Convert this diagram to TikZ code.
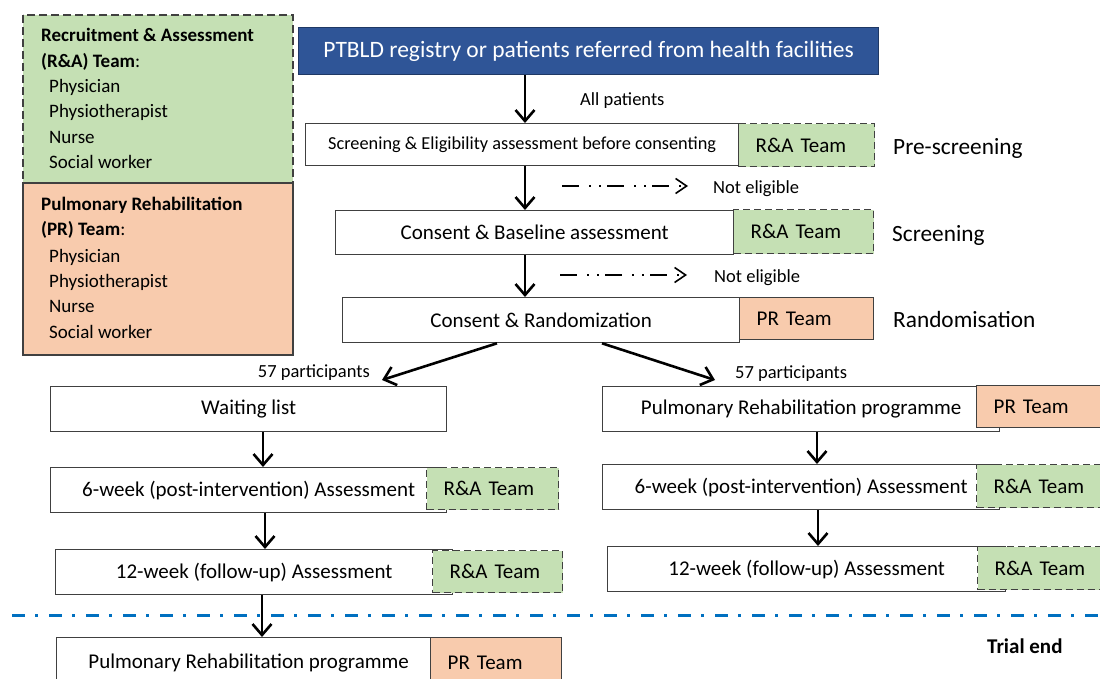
\documentclass[tikz,border=0pt]{standalone}
\usepackage{fontspec}
\setmainfont{Carlito}
\usetikzlibrary{arrows.meta,calc}
\definecolor{ptblue}{HTML}{2F5597}
\definecolor{ptbluedark}{HTML}{1F3864}
\definecolor{ragreen}{HTML}{C5E0B4}
\definecolor{prorange}{HTML}{F8CBAD}
\definecolor{trialblue}{HTML}{0070C0}
\definecolor{edgegray}{HTML}{404040}
\newcommand{\ptfBlue}{\fontsize{23.5}{27}\selectfont}
\newcommand{\ptfLeg}{\fontsize{19}{23}\selectfont}
\newcommand{\ptfBox}{\fontsize{21}{25}\selectfont}
\newcommand{\ptfScr}{\fontsize{18.3}{22}\selectfont}
\newcommand{\ptfSmall}{\fontsize{18.5}{22}\selectfont}
\newcommand{\ptfStage}{\fontsize{23.3}{27}\selectfont}
\newcommand{\ptfTrial}{\fontsize{21}{24}\selectfont\bfseries}
\begin{document}
\begin{tikzpicture}[x=1pt,y=-1pt,
  wbox/.style={draw=edgegray, line width=1.3pt, fill=white, inner sep=0pt, anchor=north west, font=\ptfBox},
  tbox/.style={draw=edgegray, line width=1.3pt, inner ysep=0pt, inner xsep=17pt, anchor=north west, align=left, font=\ptfBox},
  ra/.style={tbox, fill=ragreen, dash pattern=on 7pt off 4pt},
  pr/.style={tbox, fill=prorange},
  arr/.style={draw=black, line width=2.6pt, -{Straight Barb[length=11pt,width=19pt]}},
  ne/.style={draw=black, line width=1.6pt, dash pattern=on 17pt off 10pt on 2pt off 8pt on 2pt off 6pt, -{Straight Barb[length=11pt,width=15pt]}},
  lbl/.style={inner sep=0pt, font=\ptfSmall},
  leg/.style={inner sep=0pt, anchor=base west, font=\ptfLeg},
  stage/.style={inner sep=0pt, anchor=west, font=\ptfStage}
]
\useasboundingbox (0,0) rectangle (1100,679);
\clip (0,0) rectangle (1100,679);
\fill[white] (0,0) rectangle (1100,679);

% legend
\path[fill=ragreen, draw=edgegray, line width=1.3pt, dash pattern=on 8pt off 4pt] (23,15) rectangle (293,183);
\path[fill=prorange, draw=edgegray, line width=1.3pt] (23,183) rectangle (293,355);
\node[leg] (lg1) at (41,42) {\textbf{Recruitment \& Assessment}};
\node[leg] (lg2) at (41,68) {\textbf{(R\&A) Team}:};
\node[leg] (lg3) at (49,93) {Physician};
\node[leg] (lg4) at (49,118) {Physiotherapist};
\node[leg] (lg5) at (49,144) {Nurse};
\node[leg] (lg6) at (49,169) {Social worker};
\node[leg] (lp1) at (41,211) {\textbf{Pulmonary Rehabilitation}};
\node[leg] (lp2) at (41,236) {\textbf{(PR) Team}:};
\node[leg] (lp3) at (49,262) {Physician};
\node[leg] (lp4) at (49,287) {Physiotherapist};
\node[leg] (lp5) at (49,312) {Nurse};
\node[leg] (lp6) at (49,338) {Social worker};

% top flow
\node[draw=ptbluedark, line width=1.3pt, fill=ptblue, text=white, inner sep=0pt, anchor=north west,
      minimum width=580pt, minimum height=47pt, font=\ptfBlue] (reg) at (298,27)
      {PTBLD registry or patients referred from health facilities};

\node[wbox, minimum width=433pt, minimum height=42pt, font=\ptfScr] (scr) at (305,123)
      {Screening \& Eligibility assessment before consenting};
\node[ra, text width=102pt, minimum height=43pt] (scrT) at (738,123) {R\&A Team};
\node[stage] (st1) at (893,148) {Pre-screening};

\node[wbox, minimum width=398pt, minimum height=44pt] (cons) at (335,210) {Consent \& Baseline assessment};
\node[ra, text width=106pt, minimum height=44pt] (consT) at (733,209) {R\&A Team};
\node[stage] (st2) at (892,235) {Screening};

\node[wbox, minimum width=397pt, minimum height=45pt] (rand) at (342,297) {Consent \& Randomization};
\node[pr, text width=100pt, minimum height=42pt] (randT) at (739,297) {PR Team};
\node[stage] (st3) at (893,319) {Randomisation};

\coordinate (xa) at (525,0);
\draw[arr] (reg.south -| xa) -- (scr.north -| xa);
\node[lbl, anchor=west] (allp) at (580,101) {All patients};
\draw[arr] (scr.south -| xa) -- (cons.north -| xa);
\draw[arr] (cons.south -| xa) -- (rand.north -| xa);

\coordinate (ne1s) at (562,186);
\coordinate (ne1e) at (688,186);
\draw[ne] (ne1s) -- (ne1e);
\node[lbl, anchor=west] (nel1) at (713,189) {Not eligible};
\coordinate (ne2s) at (560,275);
\coordinate (ne2e) at (687,275);
\draw[ne] (ne2s) -- (ne2e);
\node[lbl, anchor=west] (nel2) at (714,278) {Not eligible};

% split
\coordinate (sl) at (497,0);
\coordinate (sr) at (602,0);
\coordinate (tl) at (382,380);
\coordinate (tr) at (715,380);
\draw[arr] (rand.south -| sl) -- (tl);
\draw[arr] (rand.south -| sr) -- (tr);
\node[lbl, anchor=east] (p57l) at (370,373) {57 participants};
\node[lbl, anchor=west] (p57r) at (735,374) {57 participants};

% left column
\node[wbox, minimum width=396pt, minimum height=45pt] (wl) at (50,386) {Waiting list};
\node[wbox, minimum width=396pt, minimum height=45pt] (l6) at (50,467) {6-week (post-intervention) Assessment};
\node[ra, text width=98pt, minimum height=42pt] (l6T) at (426,467) {R\&A Team};
\node[wbox, minimum width=397pt, minimum height=45pt] (l12) at (55,549) {12-week (follow-up) Assessment};
\node[ra, text width=96pt, minimum height=42pt] (l12T) at (432,550) {R\&A Team};
\node[wbox, minimum width=384pt, minimum height=50pt] (lpr) at (56,637) {Pulmonary Rehabilitation programme};
\node[pr, text width=97pt, minimum height=50pt] (lprT) at (430,637) {PR Team};

\coordinate (xl1) at (263,0);
\coordinate (xl2) at (265,0);
\coordinate (xl3) at (262,0);
\draw[arr] (wl.south -| xl1) -- (l6.north -| xl1);
\draw[arr] (l6.south -| xl2) -- (l12.north -| xl2);
\draw[arr] (l12.south -| xl3) -- (lpr.north -| xl3);

% right column
\node[wbox, minimum width=397pt, minimum height=45pt] (rpr) at (602,386) {Pulmonary Rehabilitation programme};
\node[pr, text width=100pt, minimum height=42pt] (rprT) at (976,385) {PR Team};
\node[wbox, minimum width=397pt, minimum height=45pt] (r6) at (602,464) {6-week (post-intervention) Assessment};
\node[ra, text width=100pt, minimum height=43pt] (r6T) at (976,464) {R\&A Team};
\node[wbox, minimum width=398pt, minimum height=45pt] (r12) at (607,546) {12-week (follow-up) Assessment};
\node[ra, text width=100pt, minimum height=43pt] (r12T) at (977,546) {R\&A Team};

\coordinate (xr1) at (817,0);
\coordinate (xr2) at (818,0);
\draw[arr] (rpr.south -| xr1) -- (r6.north -| xr1);
\draw[arr] (r6.south -| xr2) -- (r12.north -| xr2);

% trial end line
\coordinate (bl1) at (12,615);
\coordinate (bl2) at (1100,615);
\draw[trialblue, line width=3pt, dash pattern=on 13pt off 10pt on 3pt off 11pt] (bl1) -- (bl2);
\node[inner sep=0pt, anchor=west, font=\ptfTrial] (tend) at (987,646) {Trial end};
\end{tikzpicture}
\end{document}
